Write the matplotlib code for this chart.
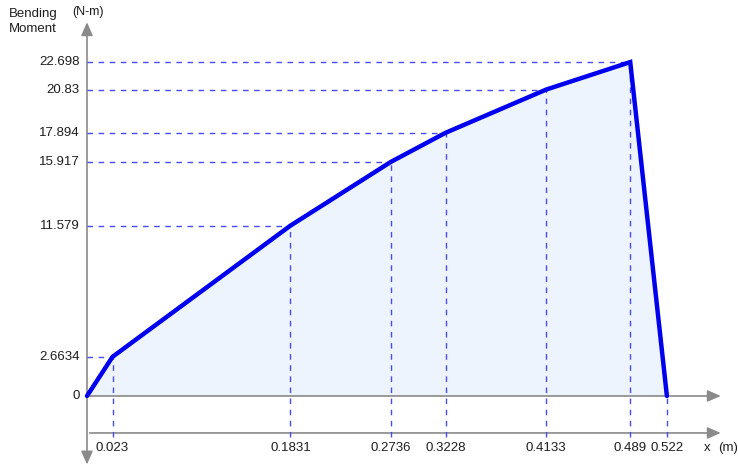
import matplotlib.pyplot as plt

plt.rcParams['font.family'] = ['Liberation Sans', 'DejaVu Sans']

# Bending moment diagram data
x_pos = [0.0, 0.023, 0.1831, 0.2736, 0.3228, 0.4133, 0.489, 0.522]
moment = [0.0, 2.6634, 11.579, 15.917, 17.894, 20.83, 22.698, 0.0]
x_labels = ["0.023", "0.1831", "0.2736", "0.3228", "0.4133", "0.489", "0.522"]
y_labels = ["0", "2.6634", "11.579", "15.917", "17.894", "20.83", "22.698"]

fig = plt.figure(figsize=(7.38, 4.71), dpi=100)
ax = fig.add_axes([0, 0, 1, 1])
ax.set_xlim(-0.0783, 0.586)
ax.set_ylim(-5.10, 26.92)
ax.axis('off')

grey = '#8a8a8a'
blue_dash = '#4a4af0'
txt = '#1e1e1e'
base_y = -2.515  # lower reference line for x labels
fs = 9.5

# shaded area under the curve
ax.fill(x_pos, moment, color='#eef4fd', zorder=1)

# axes with arrowheads
arrow = dict(arrowstyle='-|>,head_length=0.8,head_width=0.35', color=grey, lw=1.2)
ax.annotate('', xy=(0, 25.6), xytext=(0, -4.6), arrowprops=arrow, zorder=2)
ax.annotate('', xy=(0, -4.85), xytext=(0, -4.0), arrowprops=arrow, zorder=2)
for yy in (0, base_y):
    ax.annotate('', xy=(0.573, yy), xytext=(0, yy), arrowprops=arrow, zorder=2)

# dashed guide lines
for xv, yv in zip(x_pos[1:], moment[1:]):
    ax.plot([xv, xv], [base_y - 0.3, yv], ls=(0, (4, 4)), color=blue_dash, lw=1, zorder=3)
    if yv != 0:
        ax.plot([0, xv], [yv, yv], ls=(0, (4, 4)), color=blue_dash, lw=1, zorder=3)

# moment curve
ax.plot(x_pos, moment, color='#0000ee', lw=3.2, solid_joinstyle='miter',
        solid_capstyle='round', zorder=4)

# tick labels
for lbl, yv in zip(y_labels, [0.0, 2.6634, 11.579, 15.917, 17.894, 20.83, 22.698]):
    ax.text(-0.0065, yv, lbl, ha='right', va='center', fontsize=fs, color=txt)
for lbl, xv in zip(x_labels, x_pos[1:]):
    ax.text(xv, base_y - 1.0, lbl, ha='center', va='center', fontsize=fs, color=txt)

# axis titles
ax.text(-0.0705, 25.95, 'Bending', ha='left', va='center', fontsize=fs, color=txt)
ax.text(-0.0705, 24.95, 'Moment', ha='left', va='center', fontsize=fs, color=txt)
ax.text(-0.0135, 26.08, '(N-m)', ha='left', va='center', fontsize=9, color=txt)
ax.text(0.5585, base_y - 1.0, 'x', ha='center', va='center', fontsize=fs, color=txt)
ax.text(0.5775, base_y - 1.0, '(m)', ha='center', va='center', fontsize=fs, color=txt)

fig.savefig('out.png', dpi=100)
